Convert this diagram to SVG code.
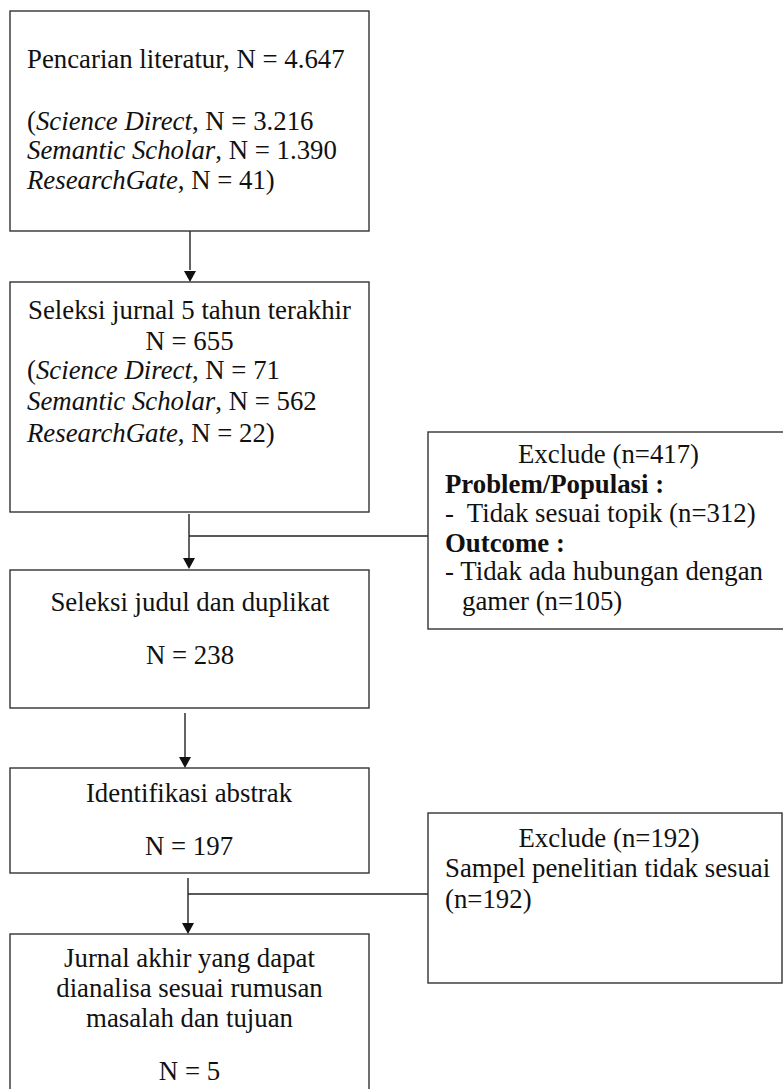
<svg xmlns="http://www.w3.org/2000/svg" width="783" height="1089" viewBox="0 0 783 1089">
<style>
.box{fill:#fff;stroke:#333;stroke-width:1.4}
.t{font-family:"Liberation Serif","Times New Roman",serif;font-size:26.8px;fill:#111;white-space:pre}
.c{text-anchor:middle}
.i{font-style:italic}
.b{font-weight:bold}
.ln{fill:none;stroke:#222;stroke-width:1.4}
.ah{fill:#111}
</style>
<rect width="783" height="1089" fill="#fff"/>
<g id="connectors">
<line class="ln" x1="190" y1="231" x2="190" y2="270"/>
<path class="ah" d="M184,271 L196,271 L190,282 Z"/>
<line class="ln" x1="189" y1="514" x2="189" y2="558"/>
<path class="ah" d="M183,558 L195,558 L189,569 Z"/>
<line class="ln" x1="189" y1="536" x2="428" y2="536"/>
<line class="ln" x1="185" y1="713" x2="185" y2="757"/>
<path class="ah" d="M179,757 L191,757 L185,768 Z"/>
<line class="ln" x1="188" y1="878" x2="188" y2="923"/>
<path class="ah" d="M182,923 L194,923 L188,934 Z"/>
<line class="ln" x1="188" y1="894" x2="428" y2="894"/>
</g>
<g id="n1">
<rect class="box" x="10" y="11" width="359" height="220"/>
<text class="t" x="27" y="68">Pencarian literatur, N = 4.647</text>
<text class="t" x="27" y="130">(<tspan class="i">Science Direct</tspan>, N = 3.216</text>
<text class="t" x="27" y="159"><tspan class="i">Semantic Scholar</tspan>, N = 1.390</text>
<text class="t" x="27" y="189"><tspan class="i">ResearchGate</tspan>, N = 41)</text>
</g>
<g id="n2">
<rect class="box" x="10" y="282" width="359" height="230"/>
<text class="t c" x="189.5" y="319">Seleksi jurnal 5 tahun terakhir</text>
<text class="t c" x="189.5" y="350">N = 655</text>
<text class="t" x="27" y="379">(<tspan class="i">Science Direct</tspan>, N = 71</text>
<text class="t" x="27" y="410"><tspan class="i">Semantic Scholar</tspan>, N = 562</text>
<text class="t" x="27" y="442"><tspan class="i">ResearchGate</tspan>, N = 22)</text>
</g>
<g id="n3">
<rect class="box" x="10" y="570" width="359" height="138"/>
<text class="t c" x="190" y="611">Seleksi judul dan duplikat</text>
<text class="t c" x="190" y="664">N = 238</text>
</g>
<g id="n4">
<rect class="box" x="10" y="768" width="359" height="105"/>
<text class="t c" x="189" y="802">Identifikasi abstrak</text>
<text class="t c" x="189" y="855">N = 197</text>
</g>
<g id="n5">
<rect class="box" x="10" y="934" width="359" height="170"/>
<text class="t c" x="189.5" y="967">Jurnal akhir yang dapat</text>
<text class="t c" x="189.5" y="997">dianalisa sesuai rumusan</text>
<text class="t c" x="189.5" y="1027">masalah dan tujuan</text>
<text class="t c" x="189.5" y="1080">N = 5</text>
</g>
<g id="ex1">
<rect class="box" x="428" y="432" width="360" height="197"/>
<text class="t c" x="608.5" y="463">Exclude (n=417)</text>
<text class="t b" x="445" y="493">Problem/Populasi :</text>
<text class="t" x="445" y="522">-  Tidak sesuai topik (n=312)</text>
<text class="t b" x="445" y="552">Outcome :</text>
<text class="t" x="445" y="580" textLength="318" lengthAdjust="spacing">- Tidak ada hubungan dengan</text>
<text class="t" x="462" y="610">gamer (n=105)</text>
</g>
<g id="ex2">
<rect class="box" x="428" y="813" width="354" height="170"/>
<text class="t c" x="609" y="847">Exclude (n=192)</text>
<text class="t" x="445" y="877">Sampel penelitian tidak sesuai</text>
<text class="t" x="445" y="908">(n=192)</text>
</g>
</svg>
